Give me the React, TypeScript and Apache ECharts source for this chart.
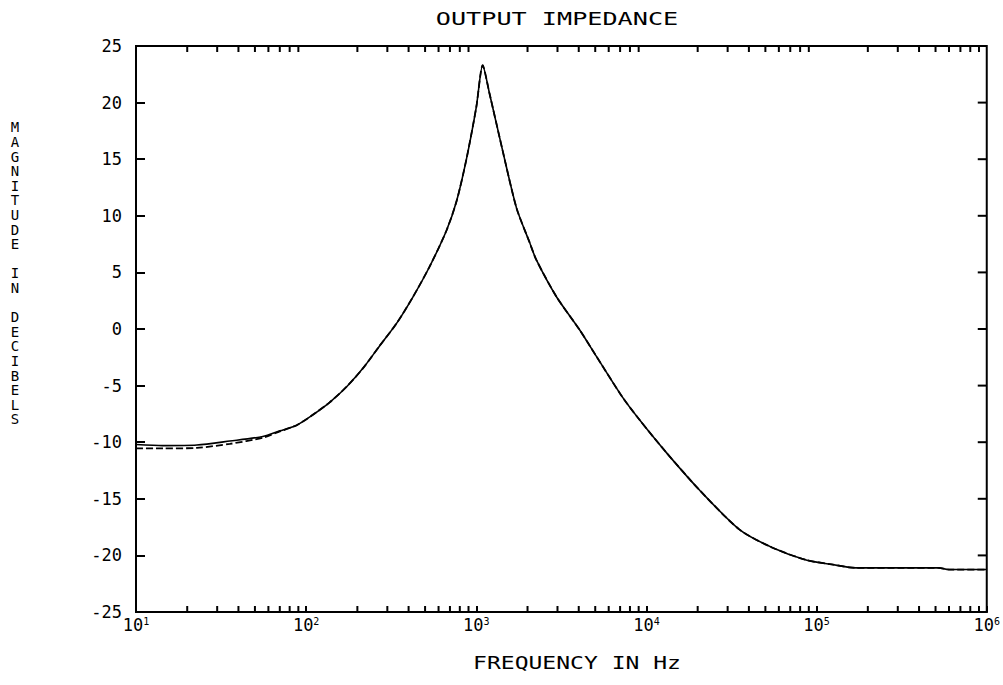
import React, { useEffect, useRef } from "react";
import * as echarts from "echarts";

// Frequency in Hz
const freqs = [
  10, 14.4, 22.8, 35.6, 55.6, 70, 88, 109, 137, 173, 215, 270, 340, 423, 531,
  668, 766, 875, 1000, 1090, 1194, 1426, 1722, 2051, 2254, 2958, 4036, 5070,
  7211, 9078, 13060, 20420, 35080, 54700, 86700, 123000, 170000, 305000,
  522000, 598000, 1000000,
];
// Magnitude in dB, solid curve
const solidDb = [
  -10.2, -10.3, -10.25, -9.9, -9.5, -9.0, -8.5, -7.6, -6.5, -5.1, -3.5, -1.5,
  0.5, 2.8, 5.5, 8.7, 11.3, 15.0, 19.6, 23.3, 20.85, 15.8, 10.7, 7.7, 6.1,
  2.85, -0.05, -2.4, -6.0, -8.0, -10.9, -14.2, -17.7, -19.3, -20.4, -20.8,
  -21.1, -21.1, -21.1, -21.25, -21.25,
];
// Magnitude in dB, dashed curve
const dashedDb = [
  -10.55, -10.55, -10.5, -10.15, -9.6, -9.05, -8.5, -7.6, -6.5, -5.1, -3.5,
  -1.5, 0.5, 2.8, 5.5, 8.7, 11.3, 15.0, 19.6, 23.3, 20.85, 15.8, 10.7, 7.7,
  6.1, 2.85, -0.05, -2.4, -6.0, -8.0, -10.9, -14.2, -17.7, -19.3, -20.4,
  -20.8, -21.1, -21.1, -21.1, -21.25, -21.25,
];
const decades = [10, 100, 1000, 10000, 100000, 1000000];
const tickMults = [2, 3, 4, 5, 6, 7, 8, 9];
const yTickVals = [-20, -15, -10, -5, 0, 5, 10, 15, 20];

const title = "OUTPUT IMPEDANCE";
const xName = "FREQUENCY IN Hz";
const yName = "MAGNITUDE IN DECIBELS";

const X_MIN = 10;
const X_MAX = 1000000;
const Y_MIN = -25;
const Y_MAX = 25;

const MONO = "'DejaVu Sans Mono', 'Liberation Mono', monospace";

export default function App() {
  const ref = useRef<HTMLDivElement>(null);
  useEffect(() => {
    if (!ref.current) return;
    const chart = echarts.init(ref.current, undefined, { renderer: "svg" });
    const xTickData: number[][] = [];
    decades.forEach((d, i) => {
      if (i < decades.length - 1)
        tickMults.forEach((m) => {
          xTickData.push([m * d, Y_MIN]);
          xTickData.push([m * d, Y_MAX]);
        });
    });
    const yTickData: number[][] = yTickVals.map((v) => [X_MAX, v]);
    const solid = freqs.map((f, i) => [f, solidDb[i]]);
    const dashed = freqs.map((f, i) => [f, dashedDb[i]]);
    const XT = 6;
    const YT = 9;
    chart.setOption({
      animation: false,
      grid: {
        left: 136,
        right: 15,
        top: 46,
        bottom: 73,
        show: true,
        borderColor: "#000",
        borderWidth: 2,
        backgroundColor: "transparent",
      },
      xAxis: {
        type: "log",
        logBase: 10,
        min: X_MIN,
        max: X_MAX,
        axisLine: { show: true, onZero: false, lineStyle: { color: "#000", width: 2 } },
        axisTick: { show: true, inside: true, length: 6, lineStyle: { color: "#000", width: 2 } },
        splitLine: { show: false },
        axisLabel: {
          margin: 4,
          color: "#000",
          formatter: (v: number) => `{b|10}{s|${Math.round(Math.log10(v))}}`,
          rich: {
            b: { fontFamily: MONO, fontSize: 17, color: "#000", verticalAlign: "bottom" },
            s: { fontFamily: MONO, fontSize: 10, color: "#000", verticalAlign: "bottom", padding: [0, 0, 7, 0] },
          },
        },
      },
      yAxis: {
        type: "value",
        min: Y_MIN,
        max: Y_MAX,
        interval: 5,
        axisLine: { show: true, onZero: false, lineStyle: { color: "#000", width: 2 } },
        axisTick: { show: true, inside: true, length: 9, lineStyle: { color: "#000", width: 2 } },
        splitLine: { show: false },
        axisLabel: { margin: 14, color: "#000", fontFamily: MONO, fontSize: 17 },
      },
      series: [
        {
          type: "custom",
          data: xTickData,
          renderItem: (params: any, api: any) => {
            const v = api.value(1);
            const p = api.coord([api.value(0), v]);
            const y = v < 0 ? p[1] - XT : p[1];
            return {
              type: "rect",
              shape: { x: p[0] - 1, y, width: 2, height: XT },
              style: { fill: "#000" },
            };
          },
        },
        {
          type: "custom",
          data: yTickData,
          renderItem: (params: any, api: any) => {
            const p = api.coord([api.value(0), api.value(1)]);
            return {
              type: "rect",
              shape: { x: p[0] - YT, y: p[1] - 1, width: YT, height: 2 },
              style: { fill: "#000" },
            };
          },
        },
        {
          type: "line",
          data: solid,
          showSymbol: false,
          smooth: 0.25,
          lineStyle: { color: "#000", width: 1.6 },
          z: 2,
        },
        {
          type: "line",
          data: dashed,
          showSymbol: false,
          smooth: 0.25,
          lineStyle: { color: "#000", width: 1.8, type: [7, 3] },
          z: 3,
        },
      ],
      graphic: [
        {
          type: "text",
          x: 557,
          y: 19,
          scaleX: 1.4,
          style: {
            text: title,
            font: `18px ${MONO}`,
            fill: "#000",
            align: "center",
            verticalAlign: "middle",
          },
        },
        {
          type: "text",
          x: 577,
          y: 663,
          scaleX: 1.28,
          style: {
            text: xName,
            font: `18px ${MONO}`,
            fill: "#000",
            align: "center",
            verticalAlign: "middle",
          },
        },
        {
          type: "text",
          x: 15,
          y: 120,
          style: {
            text: yName.split("").join("\n"),
            font: `14px ${MONO}`,
            lineHeight: 14.6,
            fill: "#000",
            align: "center",
            verticalAlign: "top",
          },
        },
      ],
    });
    return () => chart.dispose();
  }, []);
  return (
    <div
      ref={ref}
      style={{ position: "absolute", left: 0, top: 0, width: 1003, height: 685, background: "#fff" }}
    />
  );
}
